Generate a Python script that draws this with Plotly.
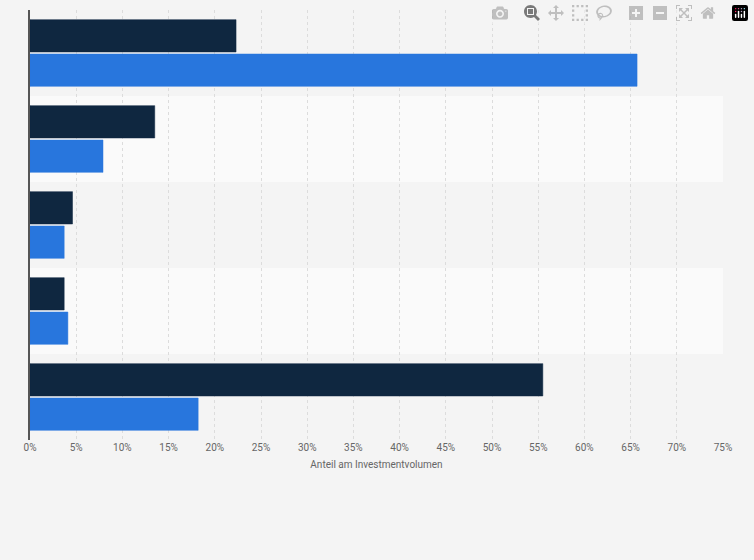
import plotly.graph_objects as go

categories = ["A", "B", "C", "D", "E"]
series_dark = [22.3, 13.5, 4.6, 3.7, 55.5]
series_blue = [65.7, 7.9, 3.7, 4.1, 18.2]
tick_vals = list(range(0, 80, 5))
tick_text = [f"{v}%" for v in tick_vals]

fig = go.Figure()
fig.add_bar(y=categories, x=series_dark, orientation="h", marker_color="#0f2740",
            marker_line=dict(color="#0f2740", width=0.5), name="dark")
fig.add_bar(y=categories, x=series_blue, orientation="h", marker_color="#2876dd",
            marker_line=dict(color="#2876dd", width=0.5), name="blue")

for i in (1, 3):
    fig.add_shape(type="rect", xref="paper", yref="y", x0=0, x1=1, y0=i - 0.5, y1=i + 0.5,
                  fillcolor="#fafafa", line_width=0, layer="below")

fig.update_layout(
    width=754, height=560, margin=dict(l=30, r=31, t=10, b=120),
    paper_bgcolor="#f4f4f4", plot_bgcolor="#f4f4f4",
    barmode="group", bargap=0.2, bargroupgap=0.06, showlegend=False,
    font=dict(family="Roboto, Arial", color="#666666", size=10),
)
fig.update_xaxes(range=[0, 75], tickvals=tick_vals, ticktext=tick_text,
                 showgrid=True, gridcolor="#dcdcdc", griddash="dot", zeroline=False,
                 title=dict(text="Anteil am Investmentvolumen", font=dict(size=10, color="#666666"), standoff=8),
                 tickfont=dict(size=10, color="#666666"), ticks="", layer="below traces")
fig.update_yaxes(autorange="reversed", showticklabels=False, showgrid=False,
                 showline=True, linecolor="#555555", linewidth=1.5, ticks="")
fig.write_html("out.html", post_script="document.body.style.margin='0';document.body.style.background='#f4f4f4';")
